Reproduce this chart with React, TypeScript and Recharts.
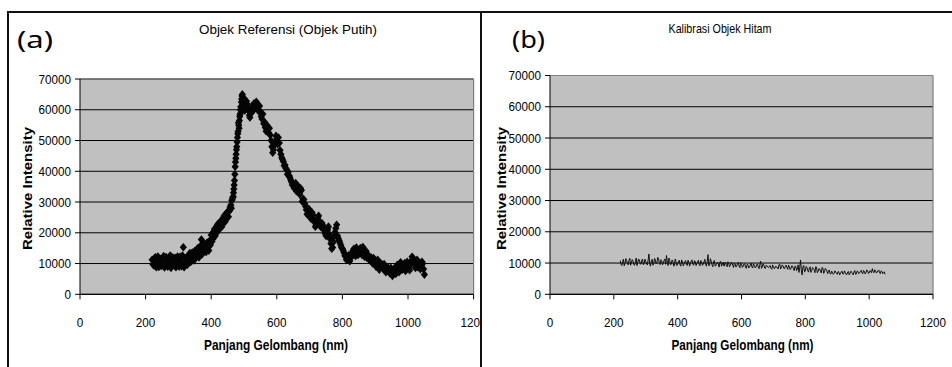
import React from 'react';
import {
  ScatterChart, Scatter, LineChart, Line, XAxis, YAxis, CartesianGrid, ReferenceLine,
} from 'recharts';

// Panel (a): Objek Referensi (Objek Putih) — [wavelength nm, relative intensity]
const referensiPoints: [number, number][] = [
  [220,11200],[225,9400],[230,12000],[235,10300],[240,8900],[245,11500],[250,10100],[255,12400],
  [260,9600],[265,11000],[270,10400],[275,12600],[280,9300],[285,10800],[290,11900],[295,9800],
  [300,10600],[305,12200],[310,9100],[315,15300],[320,10300],[325,12000],[330,11000],[335,13400],
  [340,11600],[345,12800],[350,14100],[355,12200],[360,15000],[365,13600],[370,17800],[375,14500],
  [380,16200],[385,13800],[390,15500],[395,17400],[400,19300],[405,18000],[410,21200],[415,20000],
  [420,22800],[425,21400],[430,24000],[435,23000],[440,25600],[445,24300],[450,26800],[455,27000],
  [460,29000],[463,30500],[466,31500],[468,33000],[470,35500],[472,39000],[474,43000],[476,45500],
  [478,48000],[480,51000],[482,53000],[484,55000],[486,56500],[488,58500],[490,61000],[492,62500],
  [494,64500],[496,63000],[498,61500],[500,62500],[505,60500],[510,61800],[515,59500],[518,57500],
  [520,58800],[525,61000],[530,62000],[535,60800],[540,61500],[545,60000],[550,59000],[555,57000],
  [560,55500],[565,54200],[570,55000],[575,52500],[580,51800],[585,48000],[590,47000],[595,49500],
  [600,50500],[605,51000],[610,46800],[615,44500],[620,43200],[625,42000],[630,40500],[635,39800],
  [640,38000],[645,36500],[650,36000],[655,35000],[660,33500],[665,35200],[670,32500],[675,33800],
  [680,31000],[685,29500],[690,27500],[695,26800],[700,26000],[705,24500],[710,25800],[715,23500],
  [720,22600],[725,24800],[730,23500],[735,21800],[740,22500],[745,20800],[750,19000],[755,21000],
  [760,19500],[765,16500],[770,15200],[775,18800],[780,21500],[785,19000],[790,17500],[795,16000],
  [800,14800],[805,13500],[810,12500],[815,11500],[820,12800],[825,11800],[830,13500],[835,14800],
  [840,12500],[845,14000],[850,13200],[855,15000],[860,12800],[865,14200],[870,13000],[875,11800],
  [880,12500],[885,11000],[890,10500],[895,11800],[900,9800],[905,10600],[910,9200],[915,8600],
  [920,9800],[925,8200],[930,9000],[935,7600],[940,8400],[945,6800],[950,7800],[955,6500],
  [960,8600],[965,7400],[970,9200],[975,8000],[980,9600],[985,8400],[990,10200],[995,8800],
  [1000,9400],[1005,7800],[1010,10800],[1015,11800],[1020,9600],[1025,10400],[1030,8800],[1035,9800],
  [1040,9200],[1045,10000],[1050,6400],
];

// Panel (a): further readings between the ones above
const referensiPointsExtra: [number, number][] = [
  [222.5,9800],[227.5,11800],[232.5,8800],[237.5,12300],[242.5,10600],[247.5,9200],[252.5,11900],[257.5,8700],
  [262.5,12100],[267.5,9000],[272.5,11400],[277.5,8600],[282.5,12000],[287.5,9400],[292.5,8800],[297.5,12300],
  [302.5,9000],[307.5,10900],[312.5,12600],[317.5,8800],[322.5,11700],[327.5,9600],[332.5,12800],[337.5,10500],
  [342.5,13600],[347.5,11000],[352.5,12400],[357.5,14800],[362.5,12000],[367.5,15800],[372.5,13000],[377.5,16600],
  [382.5,14000],[387.5,16800],[392.5,14200],[397.5,16000],[402.5,17200],[407.5,20400],[412.5,19000],[417.5,22300],
  [422.5,20800],[427.5,23200],[432.5,22000],[437.5,25000],[442.5,23600],[447.5,26500],[452.5,25200],[457.5,28400],
  [461.5,28000],[464.5,31000],[467,31800],[469,34200],[471,37000],[473,41500],[475,44200],[477,47000],
  [479,49500],[481,52200],[483,55800],[485,54000],[487,57800],[489,60000],[491,59200],[493,63500],
  [495,65000],[497,60200],[499,63800],[502.5,59800],[507.5,62800],[512.5,60200],[516.5,58200],[522.5,60200],
  [527.5,59600],[532.5,61200],[537.5,62600],[542.5,59800],[547.5,61200],[552.5,57800],[557.5,58600],[562.5,56000],
  [567.5,53000],[572.5,53800],[577.5,54000],[582.5,50000],[587.5,46000],[592.5,48500],[597.5,51500],[602.5,48800],
  [607.5,49200],[612.5,45500],[617.5,43800],[622.5,41800],[627.5,41000],[632.5,39000],[637.5,38600],[642.5,37200],
  [647.5,35500],[652.5,34600],[657.5,36200],[662.5,34200],[667.5,33200],[672.5,34500],[677.5,30200],[682.5,30800],
  [687.5,28600],[692.5,26000],[697.5,27800],[702.5,25000],[707.5,26600],[712.5,24200],[717.5,22000],[722.5,24000],
  [727.5,25500],[732.5,22200],[737.5,23200],[742.5,21200],[747.5,19800],[752.5,20200],[757.5,22000],[762.5,18000],
  [767.5,14800],[772.5,17000],[777.5,20200],[782.5,22600],[787.5,18200],[792.5,16800],[797.5,15200],[802.5,14200],
  [807.5,12500],[812.5,11200],[817.5,12400],[822.5,10800],[827.5,12600],[832.5,14200],[837.5,13800],[842.5,15200],
  [847.5,12800],[852.5,14600],[857.5,13800],[862.5,15400],[867.5,12200],[872.5,14000],[877.5,12800],[882.5,11200],
  [887.5,12000],[892.5,10000],[897.5,10800],[902.5,9000],[907.5,11200],[912.5,8000],[917.5,10000],[922.5,8800],
  [927.5,9800],[932.5,7200],[937.5,8800],[942.5,7400],[947.5,8600],[952.5,6000],[957.5,7600],[962.5,6600],
  [967.5,9600],[972.5,7200],[977.5,10400],[982.5,8000],[987.5,9200],[992.5,7600],[997.5,10600],[1002.5,8600],
  [1007.5,9800],[1012.5,12200],[1017.5,10600],[1022.5,8600],[1027.5,11200],[1032.5,10200],[1037.5,8200],[1042.5,10600],
  [1047.5,8200],
];

// Panel (b): Kalibrasi Objek Hitam — [wavelength nm, relative intensity]
const hitamPoints: [number, number][] = [
  [220,10800],[225,9200],[230,11200],[235,9800],[240,10900],[245,9400],[250,11500],[255,10000],
  [260,10700],[265,9300],[270,11600],[275,10200],[280,11000],[285,9600],[290,11300],[295,9900],
  [300,10600],[305,9400],[310,12900],[315,9000],[320,11200],[325,9800],[330,11000],[335,10100],
  [340,11400],[345,9500],[350,10800],[355,9900],[360,11300],[365,12400],[370,9200],[375,10900],
  [380,9600],[385,10700],[390,9300],[395,10400],[400,9700],[405,10900],[410,9000],[415,10500],
  [420,9600],[425,10800],[430,9200],[435,10300],[440,9800],[445,11000],[450,9300],[455,10600],
  [460,9700],[465,10900],[470,9100],[475,10400],[480,9500],[485,11200],[490,9000],[495,12700],
  [500,9400],[505,10600],[510,8800],[515,10800],[520,9300],[525,10200],[530,8700],[535,10500],
  [540,9600],[545,9000],[550,10300],[555,8800],[560,9900],[565,9200],[570,10100],[575,8600],
  [580,9700],[585,9000],[590,10200],[595,8500],[600,9600],[605,8900],[610,9800],[615,8300],
  [620,9500],[625,8700],[630,10000],[635,8400],[640,9300],[645,8600],[650,9700],[655,8200],
  [660,10600],[665,8700],[670,9400],[675,8300],[680,9100],[685,8500],[690,9200],[695,8000],
  [700,8900],[705,8400],[710,8800],[715,8100],[720,9600],[725,8600],[730,9100],[735,8200],
  [740,9300],[745,8000],[750,8800],[755,8300],[760,9000],[765,7600],[770,8900],[775,8100],
  [780,7000],[785,11000],[790,6200],[795,9200],[800,7400],[805,8600],[810,7100],[815,8800],
  [820,7600],[825,8300],[830,6900],[835,8700],[840,7300],[845,8100],[850,6800],[855,8400],
  [860,7200],[865,8000],[870,6600],[875,7800],[880,6500],[885,7000],[890,6700],[895,7200],
  [900,6400],[905,7100],[910,6600],[915,7400],[920,6500],[925,7000],[930,6300],[935,7300],
  [940,6700],[945,7100],[950,6200],[955,7600],[960,6500],[965,7200],[970,6900],[975,7700],
  [980,6600],[985,7300],[990,7000],[995,7500],[1000,6800],[1005,7400],[1010,8200],[1015,6900],
  [1020,7600],[1025,7100],[1030,7800],[1035,6600],[1040,7300],[1045,6900],[1050,6400],
];

// Panel (b): readings between the ones above
const hitamPointsExtra: [number, number][] = [
  [222.5,9600],[227.5,10500],[232.5,9100],[237.5,11400],[242.5,9900],[247.5,10800],[252.5,9300],[257.5,11100],
  [262.5,9500],[267.5,10400],[272.5,9200],[277.5,11300],[282.5,9800],[287.5,10900],[292.5,9400],[297.5,11200],
  [302.5,9700],[307.5,11000],[312.5,9600],[317.5,10700],[322.5,9300],[327.5,11500],[332.5,9700],[337.5,11800],
  [342.5,9900],[347.5,11100],[352.5,9400],[357.5,10800],[362.5,9600],[367.5,10300],[372.5,11600],[377.5,9500],
  [382.5,11000],[387.5,9000],[392.5,11300],[397.5,9200],[402.5,10400],[407.5,9400],[412.5,11000],[417.5,9100],
  [422.5,10300],[427.5,9500],[432.5,10900],[437.5,9000],[442.5,10600],[447.5,9700],[452.5,10700],[457.5,9200],
  [462.5,10400],[467.5,9500],[472.5,10800],[477.5,9300],[482.5,10300],[487.5,9600],[492.5,10500],[497.5,9100],
  [502.5,11400],[507.5,9500],[512.5,10500],[517.5,9000],[522.5,10000],[527.5,9700],[532.5,10400],[537.5,9000],
  [542.5,10300],[547.5,9800],[552.5,9100],[557.5,10400],[562.5,8800],[567.5,10200],[572.5,9300],[577.5,10000],
  [582.5,8700],[587.5,9900],[592.5,9000],[597.5,10100],[602.5,8600],[607.5,9700],[612.5,8700],[617.5,9600],
  [622.5,8400],[627.5,9300],[632.5,8800],[637.5,9800],[642.5,8500],[647.5,9500],[652.5,8700],[657.5,9600],
  [662.5,8300],[667.5,9800],[672.5,8400],[677.5,9300],[682.5,8700],[687.5,9000],[692.5,8300],[697.5,9400],
  [702.5,8200],[707.5,9000],[712.5,8400],[717.5,9500],[722.5,8100],[727.5,9400],[732.5,8300],[737.5,9000],
  [742.5,8500],[747.5,9300],[752.5,7900],[757.5,9100],[762.5,8200],[767.5,9000],[772.5,7600],[777.5,9400],
  [782.5,8600],[787.5,7600],[792.5,8800],[797.5,7200],[802.5,8900],[807.5,7600],[812.5,8400],[817.5,7000],
  [822.5,8600],[827.5,7900],[832.5,8800],[837.5,6900],[842.5,8200],[847.5,7400],[852.5,8600],[857.5,6700],
  [862.5,8300],[867.5,7500],[872.5,7300],[877.5,6600],[882.5,7400],[887.5,6400],[892.5,7500],[897.5,6700],
  [902.5,7300],[907.5,6200],[912.5,7200],[917.5,6500],[922.5,7500],[927.5,6400],[932.5,7100],[937.5,6200],
  [942.5,7400],[947.5,6600],[952.5,7200],[957.5,6400],[962.5,7500],[967.5,6600],[972.5,7300],[977.5,6800],
  [982.5,7600],[987.5,6500],[992.5,7800],[997.5,6700],[1002.5,7600],[1007.5,6900],[1012.5,7300],[1017.5,7800],
  [1022.5,6800],[1027.5,7500],[1032.5,6900],[1037.5,7500],[1042.5,6600],[1047.5,7200],
];

const xTicks = [0, 200, 400, 600, 800, 1000, 1200];
const yTicks = [0, 10000, 20000, 30000, 40000, 50000, 60000, 70000];

const panelLabels = ['(a)', '(b)'];
const chartTitles = ['Objek Referensi (Objek Putih)', 'Kalibrasi Objek Hitam'];
const xAxisTitle = 'Panjang Gelombang (nm)';
const yAxisTitle = 'Relative Intensity';

const toRows = (pts: [number, number][]) =>
  pts.map(([x, y]) => ({ x, y })).sort((a, b) => a.x - b.x);

const dataA = toRows([...referensiPoints, ...referensiPointsExtra]);
const dataB = toRows([...hitamPoints, ...hitamPointsExtra]);

const TICK_FONT = '"Liberation Sans", Arial, sans-serif';
const CHAR_W = 6.5;

const YTick = (props: any) => {
  const { x, y, payload } = props;
  const s = String(payload.value);
  return (
    <text x={x} y={y} dy="0.35em" textAnchor="end" fontFamily={TICK_FONT} fontSize={13}
      fill="#000" textLength={s.length * CHAR_W} lengthAdjust="spacingAndGlyphs">{s}</text>
  );
};

const XTick = (props: any) => {
  const { x, y, payload } = props;
  const s = String(payload.value);
  return (
    <text x={x} y={y} dy="0.72em" textAnchor="middle" fontFamily={TICK_FONT} fontSize={13}
      fill="#000" textLength={s.length * CHAR_W} lengthAdjust="spacingAndGlyphs">{s}</text>
  );
};

const Diamond = (props: any) => {
  const { cx, cy } = props;
  if (cx == null || cy == null) return null;
  return <path d={`M${cx},${cy - 4.3}L${cx + 3.6},${cy}L${cx},${cy + 4.3}L${cx - 3.6},${cy}Z`} fill="#050505" />;
};

export default function App() {
  return (
    <div style={{ position: 'absolute', left: 0, top: 0, width: 952, height: 367, background: '#fff', overflow: 'hidden' }}>
      {/* Panel (a) chart */}
      <div style={{ position: 'absolute', left: 7, top: 12 }}>
        <ScatterChart width={500} height={355} margin={{ top: 67, right: 33.4, bottom: 0, left: 0 }}>
          <CartesianGrid vertical={false} stroke="#000" fill="#C0C0C0" fillOpacity={1} />
          <XAxis type="number" dataKey="x" domain={[0, 1200]} ticks={xTicks} height={72.7}
            axisLine={{ stroke: '#000' }} tickLine={{ stroke: '#000' }} tickSize={5} tickMargin={18}
            tick={<XTick />} interval={0} />
          <YAxis type="number" dataKey="y" domain={[0, 70000]} ticks={yTicks} width={73}
            axisLine={{ stroke: '#000' }} tickLine={{ stroke: '#000' }} tickSize={5} tickMargin={4}
            tick={<YTick />} interval={0} />
          <ReferenceLine y={70000} stroke="#808080" strokeWidth={1.2} />
          <ReferenceLine x={1200} stroke="#808080" strokeWidth={1.2} />
          <Scatter data={dataA} shape={<Diamond />} fill="#000" isAnimationActive={false} />
        </ScatterChart>
      </div>

      {/* Panel (b) frame, covering overflow of (a) */}
      <div style={{ position: 'absolute', left: 480, top: 11, width: 480, height: 370, background: '#fff', borderLeft: '2px solid #111', borderTop: '2px solid #111' }} />
      {/* Panel (a) frame lines */}
      <div style={{ position: 'absolute', left: 7, top: 11, width: 2, height: 370, background: '#111' }} />
      <div style={{ position: 'absolute', left: 7, top: 11, width: 474, height: 2, background: '#111' }} />

      {/* Panel (b) chart */}
      <div style={{ position: 'absolute', left: 481, top: 12 }}>
        <LineChart width={471} height={355} data={dataB} margin={{ top: 63.5, right: 19, bottom: 0, left: 0 }}>
          <CartesianGrid vertical={false} stroke="#000" fill="#C0C0C0" fillOpacity={1} />
          <XAxis type="number" dataKey="x" domain={[0, 1200]} ticks={xTicks} height={72.7}
            axisLine={{ stroke: '#000' }} tickLine={{ stroke: '#000' }} tickSize={5} tickMargin={18}
            tick={<XTick />} interval={0} />
          <YAxis type="number" domain={[0, 70000]} ticks={yTicks} width={69}
            axisLine={{ stroke: '#000' }} tickLine={{ stroke: '#000' }} tickSize={5} tickMargin={4}
            tick={<YTick />} interval={0} />
          <ReferenceLine y={70000} stroke="#808080" strokeWidth={1.2} />
          <ReferenceLine x={1200} stroke="#808080" strokeWidth={1.2} />
          <Line type="linear" dataKey="y" stroke="#111" strokeWidth={1} dot={false} isAnimationActive={false} />
        </LineChart>
      </div>

      {/* Text overlay */}
      <svg width={952} height={367} style={{ position: 'absolute', left: 0, top: 0, pointerEvents: 'none' }}>
        <text x={17} y={48} fontFamily='"Noto Sans", "Open Sans", sans-serif' fontSize={23} fill="#000"
          textLength={36} lengthAdjust="spacingAndGlyphs">{panelLabels[0]}</text>
        <text x={512} y={48} fontFamily='"Noto Sans", "Open Sans", sans-serif' fontSize={23} fill="#000"
          textLength={33} lengthAdjust="spacingAndGlyphs">{panelLabels[1]}</text>

        <text x={288} y={34} textAnchor="middle" fontFamily={TICK_FONT} fontSize={13} fill="#000"
          textLength={178} lengthAdjust="spacingAndGlyphs">{chartTitles[0]}</text>
        <text x={720} y={33} textAnchor="middle" fontFamily={TICK_FONT} fontSize={13} fill="#000"
          textLength={103} lengthAdjust="spacingAndGlyphs">{chartTitles[1]}</text>

        <text x={276} y={349.5} textAnchor="middle" fontFamily={TICK_FONT} fontSize={14} fontWeight="bold" fill="#000"
          textLength={144} lengthAdjust="spacingAndGlyphs">{xAxisTitle}</text>
        <text x={742.5} y={350} textAnchor="middle" fontFamily={TICK_FONT} fontSize={14} fontWeight="bold" fill="#000"
          textLength={142} lengthAdjust="spacingAndGlyphs">{xAxisTitle}</text>

        <text x={32.3} y={188.5} transform="rotate(-90 32.3 188.5)" textAnchor="middle" fontFamily={TICK_FONT}
          fontSize={13} fontWeight="bold" fill="#000" textLength={123} lengthAdjust="spacingAndGlyphs">{yAxisTitle}</text>
        <text x={506} y={188.5} transform="rotate(-90 506 188.5)" textAnchor="middle" fontFamily={TICK_FONT}
          fontSize={13} fontWeight="bold" fill="#000" textLength={123} lengthAdjust="spacingAndGlyphs">{yAxisTitle}</text>
      </svg>
    </div>
  );
}
